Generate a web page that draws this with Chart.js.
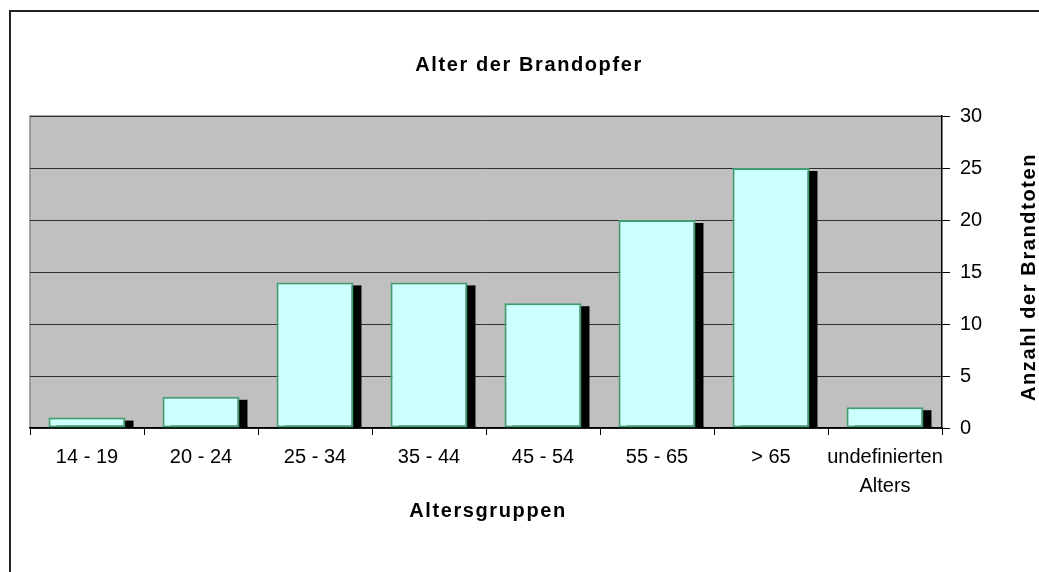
<!DOCTYPE html>
<html>
<head>
<meta charset="utf-8">
<script src="https://cdn.jsdelivr.net/npm/chart.js@4"></script>
<style>
  html, body { margin: 0; padding: 0; background: #fff; }
  #wrap { width: 1039px; height: 572px; }
</style>
</head>
<body>
<div id="wrap"><canvas id="brandChart" width="1039" height="572"></canvas></div>
<script>
// DATA
const ageGroups = ['14 - 19', '20 - 24', '25 - 34', '35 - 44', '45 - 54', '55 - 65', '> 65', ['undefinierten', 'Alters']];
const deaths = [1, 3, 14, 14, 12, 20, 25, 2];
const yTicks = [0, 5, 10, 15, 20, 25, 30];

const chartTitle = 'Alter der Brandopfer';
const xTitle = 'Altersgruppen';
const yTitle = 'Anzahl der Brandtoten';

const FONT = '"Liberation Sans", Arial, sans-serif';

// white page, thin frame and grey plot area
const backgroundPlugin = {
  id: 'background',
  beforeDraw(chart) {
    const { ctx, chartArea: a } = chart;
    ctx.save();
    ctx.fillStyle = '#ffffff';
    ctx.fillRect(0, 0, chart.width, chart.height);
    ctx.strokeStyle = '#222';
    ctx.lineWidth = 2;
    ctx.beginPath();
    ctx.moveTo(10, chart.height);
    ctx.lineTo(10, 11);
    ctx.lineTo(chart.width, 11);
    ctx.stroke();
    ctx.fillStyle = '#c0c0c0';
    ctx.fillRect(a.left, a.top, a.right - a.left, a.bottom - a.top);
    ctx.strokeStyle = '#8a8a8a';
    ctx.lineWidth = 1.5;
    ctx.beginPath();
    ctx.moveTo(a.left, a.bottom);
    ctx.lineTo(a.left, a.top);
    ctx.lineTo(a.right, a.top);
    ctx.stroke();
    ctx.restore();
  }
};

// black drop shadow behind each bar
const shadowPlugin = {
  id: 'barShadow',
  beforeDatasetsDraw(chart) {
    const { ctx, chartArea: a } = chart;
    const meta = chart.getDatasetMeta(0);
    ctx.save();
    ctx.beginPath();
    ctx.rect(a.left, a.top, a.right - a.left, a.bottom - a.top);
    ctx.clip();
    ctx.fillStyle = '#000';
    meta.data.forEach(bar => {
      const left = bar.x - bar.width / 2 + 8;
      const top = bar.y + 3;
      ctx.fillRect(left, top, bar.width, bar.base - top);
    });
    ctx.restore();
  }
};

// titles (bold, slightly spaced, y title reads bottom to top)
const titlesPlugin = {
  id: 'titles',
  afterDraw(chart) {
    const { ctx, chartArea: a } = chart;
    ctx.save();
    ctx.fillStyle = '#000';
    ctx.font = 'bold 20px ' + FONT;
    if ('letterSpacing' in ctx) ctx.letterSpacing = '1.6px';
    ctx.textAlign = 'center';
    ctx.textBaseline = 'alphabetic';
    ctx.fillText(chartTitle, 529, 71);
    ctx.fillText(xTitle, (a.left + a.right) / 2 + 2, 517);
    ctx.translate(1035, (a.top + a.bottom) / 2 + 5);
    ctx.rotate(-Math.PI / 2);
    ctx.fillText(yTitle, 0, 0);
    ctx.restore();
  }
};

const ctx = document.getElementById('brandChart').getContext('2d');
new Chart(ctx, {
  type: 'bar',
  data: {
    labels: ageGroups,
    datasets: [{
      label: yTitle,
      data: deaths,
      backgroundColor: '#ccffff',
      borderColor: '#3f9f6f',
      borderWidth: 2,
      borderSkipped: false,
      barPercentage: 0.675,
      categoryPercentage: 1
    }]
  },
  options: {
    responsive: false,
    animation: false,
    layout: { padding: { left: 30, top: 116, right: 0, bottom: 0 } },
    plugins: {
      legend: { display: false },
      title: { display: false },
      tooltip: { enabled: true }
    },
    scales: {
      x: {
        offset: true,
        grid: {
          display: true,
          offset: true,
          drawOnChartArea: false,
          tickLength: 7,
          color: '#000'
        },
        border: { display: true, color: '#000', width: 1.5 },
        ticks: {
          color: '#000',
          padding: 8,
          maxRotation: 0,
          autoSkip: false,
          font: { family: FONT, size: 20, lineHeight: 1.45 }
        },
        afterFit(scale) { scale.height = 144; }
      },
      y: {
        position: 'right',
        min: 0,
        max: 30,
        afterBuildTicks(scale) { scale.ticks = yTicks.map(v => ({ value: v })); },
        grid: {
          color: '#303030',
          lineWidth: 1,
          tickLength: 8,
          tickColor: '#000'
        },
        border: { display: true, color: '#000', width: 1.5 },
        ticks: {
          color: '#000',
          padding: 10,
          font: { family: FONT, size: 20 }
        },
        afterFit(scale) { scale.width = 97; }
      }
    }
  },
  plugins: [backgroundPlugin, shadowPlugin, titlesPlugin]
});
</script>
</body>
</html>
